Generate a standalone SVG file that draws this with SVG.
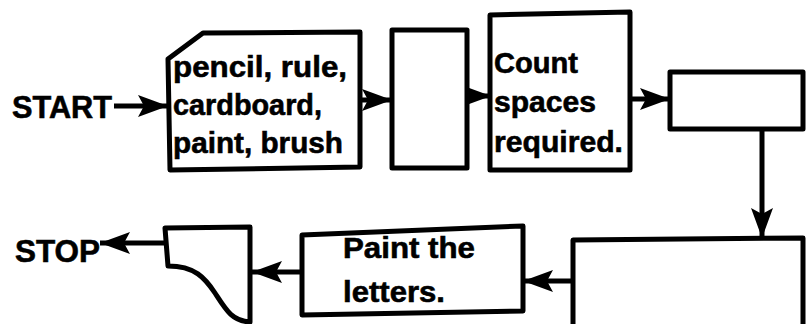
<svg xmlns="http://www.w3.org/2000/svg" width="806" height="324" viewBox="0 0 806 324">
<style>
.box{fill:#fff;stroke:#000;stroke-width:5;stroke-linejoin:round}
.con{fill:none;stroke:#000;stroke-width:5}
.t{font-family:"Liberation Sans",Arial,sans-serif;font-weight:bold;font-size:30px;fill:#000;stroke:#000;stroke-width:0.6}
.big{font-size:32px}
</style>
<defs>
<marker id="ah" markerUnits="userSpaceOnUse" markerWidth="32" markerHeight="24" refX="30" refY="11" orient="auto" overflow="visible">
<path d="M0,0 L30,11 L0,22 L6,11 Z" fill="#000"/>
</marker>
</defs>
<g id="connectors">
<line class="con" x1="114" y1="106" x2="168" y2="106" marker-end="url(#ah)"/>
<line class="con" x1="359" y1="100" x2="392" y2="100" marker-end="url(#ah)"/>
<line class="con" x1="467" y1="96" x2="491" y2="96" marker-end="url(#ah)"/>
<line class="con" x1="630" y1="99" x2="670" y2="99" marker-end="url(#ah)"/>
<line class="con" x1="762" y1="130" x2="762" y2="238" marker-end="url(#ah)"/>
<line class="con" x1="573" y1="281" x2="523" y2="281" marker-end="url(#ah)"/>
<line class="con" x1="302" y1="272" x2="252" y2="272" marker-end="url(#ah)"/>
<line class="con" x1="165" y1="243" x2="100" y2="243" marker-end="url(#ah)"/>
</g>
<g id="start"><text class="t big" x="12" y="118" textLength="100" lengthAdjust="spacingAndGlyphs">START</text></g>
<g id="materials">
<path class="box" d="M168,59 L203,33 L360,32 L360,167 L170,170 Z"/>
<text class="t" x="173" y="77" textLength="174" lengthAdjust="spacingAndGlyphs">pencil, rule,</text>
<text class="t" x="173" y="115" textLength="149" lengthAdjust="spacingAndGlyphs">cardboard,</text>
<text class="t" x="173" y="153" textLength="170" lengthAdjust="spacingAndGlyphs">paint, brush</text>
</g>
<g id="blank1"><rect class="box" x="392" y="30" width="75" height="138"/></g>
<g id="count">
<path class="box" d="M490,15 L630,12 L630,170 L490,170 Z"/>
<text class="t" x="494" y="73" textLength="84" lengthAdjust="spacingAndGlyphs">Count</text>
<text class="t" x="494" y="112" textLength="102" lengthAdjust="spacingAndGlyphs">spaces</text>
<text class="t" x="494" y="152" textLength="129" lengthAdjust="spacingAndGlyphs">required.</text>
</g>
<g id="blank2"><rect class="box" x="670" y="72" width="133" height="57"/></g>
<g id="blank3"><path class="box" d="M573,240 L803,238 L803,330 L573,330 Z"/></g>
<g id="paint">
<path class="box" d="M302,235 L523,226 L523,311 L302,315 Z"/>
<text class="t" x="343" y="258" textLength="132" lengthAdjust="spacingAndGlyphs">Paint the</text>
<text class="t" x="343" y="302" textLength="102" lengthAdjust="spacingAndGlyphs">letters.</text>
</g>
<g id="card">
<path class="box" d="M165,228 L250,227 L250,322 C232,321 226,310 215,293 C205,278 195,266 168,266 Z"/>
</g>
<g id="stop"><text class="t big" x="15" y="262" textLength="85" lengthAdjust="spacingAndGlyphs">STOP</text></g>
</svg>
